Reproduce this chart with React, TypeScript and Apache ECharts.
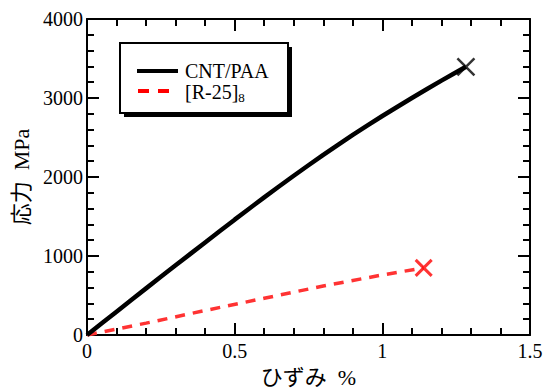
import React, { useEffect, useRef } from "react";
import * as echarts from "echarts";

const cntStrain = [0, 0.1, 0.2, 0.3, 0.4, 0.5, 0.6, 0.7, 0.8, 0.9, 1.0, 1.1, 1.2, 1.283];
const cntStress = [0, 295, 590, 882, 1172, 1460, 1742, 2016, 2280, 2532, 2772, 3000, 3220, 3395];
const r25Strain = [0, 0.2, 0.4, 0.6, 0.8, 1.0, 1.14];
const r25Stress = [0, 150, 310, 465, 620, 760, 850];
const xTicks = [0, 0.5, 1, 1.5];
const yTicks = [0, 1000, 2000, 3000, 4000];
const seriesNames = ["CNT/PAA", "[R-25]8"];

const FONT = "Liberation Serif";
const NAME_FONT = "Liberation Serif, Noto Sans CJK JP";

export default function App() {
  const ref = useRef<HTMLDivElement>(null);
  useEffect(() => {
    if (!ref.current) return;
    const chart = echarts.init(ref.current, null, { renderer: "svg" });
    const pair = (xs: number[], ys: number[]) => xs.map((x, i) => [x, ys[i]]);
    const last = (xs: number[], ys: number[]) => [[xs[xs.length - 1], ys[ys.length - 1]]];
    const xAxisBase = {
      type: "value",
      min: xTicks[0],
      max: xTicks[xTicks.length - 1],
      interval: 0.5,
      axisLine: { show: true, onZero: false, lineStyle: { color: "#000", width: 2 } },
      axisTick: { show: true, inside: true, length: 12, lineStyle: { color: "#000", width: 2 } },
      minorTick: { show: true, splitNumber: 5, length: 7, lineStyle: { color: "#000", width: 2 } },
      splitLine: { show: false },
    };
    const yAxisBase = {
      type: "value",
      min: yTicks[0],
      max: yTicks[yTicks.length - 1],
      interval: 1000,
      axisLine: { show: true, onZero: false, lineStyle: { color: "#000", width: 2 } },
      axisTick: { show: true, inside: true, length: 12, lineStyle: { color: "#000", width: 2 } },
      minorTick: { show: true, splitNumber: 5, length: 7, lineStyle: { color: "#000", width: 2 } },
      splitLine: { show: false },
    };
    const xMark = "path://M0,0L10,10M10,0L0,10";
    chart.setOption({
      animation: false,
      textStyle: { fontFamily: FONT },
      grid: { left: 87, right: 15, top: 19, bottom: 55, containLabel: false, outerBoundsMode: "none" },
      xAxis: [
        {
          ...xAxisBase,
          position: "bottom",
          name: "ひずみ  %",
          nameLocation: "middle",
          nameGap: 31,
          nameTextStyle: { fontFamily: NAME_FONT, fontSize: 22, lineHeight: 22, color: "#000" },
          axisLabel: {
            fontFamily: FONT,
            fontSize: 20,
            color: "#000",
            margin: 6,
            formatter: (v: number) => String(v),
          },
        },
        { ...xAxisBase, position: "top", axisLabel: { show: false } },
      ],
      yAxis: [
        {
          ...yAxisBase,
          position: "left",
          name: "応力  MPa",
          nameLocation: "middle",
          nameGap: 44,
          nameTextStyle: { fontFamily: NAME_FONT, fontSize: 22, color: "#000" },
          axisLabel: {
            fontFamily: FONT,
            fontSize: 20,
            color: "#000",
            margin: 4,
            formatter: (v: number) => String(v),
          },
        },
        { ...yAxisBase, position: "right", axisLabel: { show: false } },
      ],
      series: [
        {
          name: seriesNames[0],
          type: "line",
          data: pair(cntStrain, cntStress),
          smooth: 0.2,
          showSymbol: false,
          lineStyle: { color: "#000", width: 4.5 },
          z: 3,
        },
        {
          name: seriesNames[1],
          type: "line",
          data: pair(r25Strain, r25Stress),
          showSymbol: false,
          lineStyle: { color: "#f33", width: 3.5, type: [10, 8] },
          z: 2,
        },
        {
          type: "scatter",
          data: last(cntStrain, cntStress),
          symbol: xMark,
          symbolSize: 17,
          itemStyle: { color: "none", borderColor: "#000", borderWidth: 2.5 },
          z: 4,
        },
        {
          type: "scatter",
          data: last(r25Strain, r25Stress),
          symbol: xMark,
          symbolSize: 16,
          itemStyle: { color: "none", borderColor: "#f00", borderWidth: 3 },
          z: 4,
        },
      ],
      graphic: [
        { type: "rect", shape: { x: 124, y: 47, width: 168, height: 70 }, style: { fill: "#000" }, z: 10 },
        {
          type: "rect",
          shape: { x: 120, y: 43, width: 168, height: 70 },
          style: { fill: "#fff", stroke: "#000", lineWidth: 2 },
          z: 11,
        },
        { type: "line", shape: { x1: 137, y1: 71, x2: 178, y2: 71 }, style: { stroke: "#000", lineWidth: 4 }, z: 12 },
        {
          type: "line",
          shape: { x1: 138, y1: 91, x2: 178, y2: 91 },
          style: { stroke: "#f00", lineWidth: 4, lineDash: [11, 9] },
          z: 12,
        },
        {
          type: "text",
          x: 185,
          y: 71,
          style: { text: seriesNames[0], fontFamily: FONT, fontSize: 20, fill: "#000", verticalAlign: "middle" },
          z: 12,
        },
        {
          type: "text",
          x: 185,
          y: 92,
          style: {
            text: "{m|[R-25]}{s|8}",
            fill: "#000",
            verticalAlign: "middle",
            rich: {
              m: { fontFamily: FONT, fontSize: 20, color: "#000", verticalAlign: "middle" },
              s: { fontFamily: FONT, fontSize: 13, color: "#000", padding: [10, 0, 0, 0] },
            },
          },
          z: 12,
        },
      ],
    });
    return () => chart.dispose();
  }, []);
  return <div ref={ref} style={{ position: "absolute", left: 0, top: 0, width: 545, height: 390 }} />;
}
